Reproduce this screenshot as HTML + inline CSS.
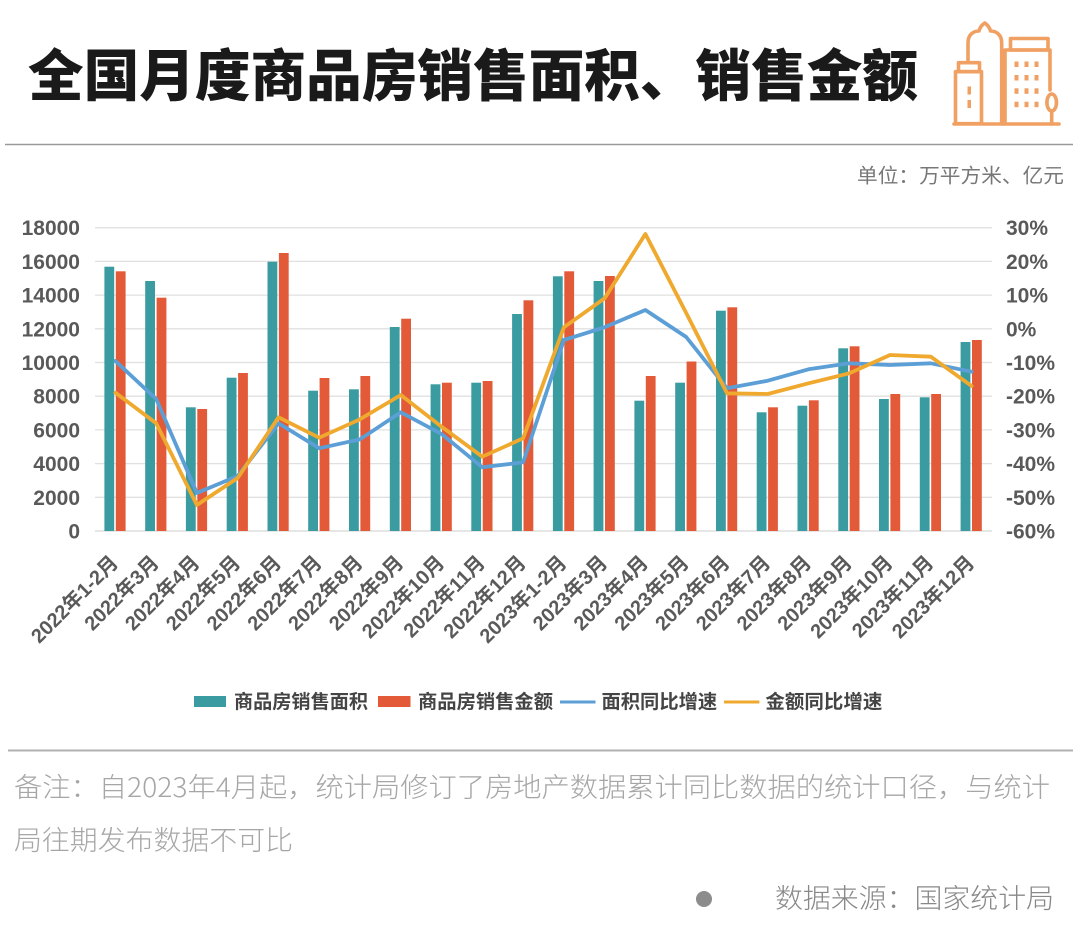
<!DOCTYPE html>
<html>
<head>
<meta charset="utf-8">
<style>
html,body{margin:0;padding:0;background:#fff;}
svg{display:block;}
text{font-family:"Liberation Sans","Noto Sans CJK SC",sans-serif;}
.cjk{font-family:"Noto Sans CJK SC","Liberation Sans",sans-serif;}
</style>
</head>
<body>
<svg width="1080" height="948" viewBox="0 0 1080 948" xmlns="http://www.w3.org/2000/svg">
<rect x="0" y="0" width="1080" height="948" fill="#fff"/>

<!-- Title -->
<text class="cjk" x="28" y="96" font-size="56" font-weight="900" fill="#1a1a1a" textLength="890" lengthAdjust="spacingAndGlyphs">全国月度商品房销售面积、销售金额</text>

<!-- Icon -->
<g fill="none" stroke="#F0A062" stroke-width="3.6" stroke-linecap="round" stroke-linejoin="round">
  <line x1="954" y1="124" x2="1059" y2="124"/>
  <rect x="955.5" y="71.7" width="26" height="52"/>
  <rect x="958.5" y="62.7" width="21" height="9"/>
  <path d="M968,62.7 L968,43 C968,34 974,31 979,31 C980,27 982.5,24.5 984.8,23 C987,24.5 989.5,27 990.5,31 C995.5,31 1001.7,34 1001.7,43 L1001.7,124"/>
  <path d="M1005,124 L1005,50 L1050,50 L1050,90"/>
  <rect x="1010.5" y="38.5" width="37.5" height="11.5"/>
  <ellipse cx="1051.7" cy="102.5" rx="4.8" ry="8.5"/>
  <line x1="1051.7" y1="111" x2="1051.7" y2="124"/>
</g>
<g fill="#F0A062">
  <rect x="967.5" y="86.5" width="3.5" height="8"/>
  <rect x="967.5" y="100" width="3.5" height="8"/>
  <rect x="1014.5" y="61.5" width="4" height="5.5"/><rect x="1024.5" y="61.5" width="4" height="5.5"/><rect x="1034.5" y="61.5" width="4" height="5.5"/>
  <rect x="1014.5" y="75" width="4" height="5.5"/><rect x="1024.5" y="75" width="4" height="5.5"/><rect x="1034.5" y="75" width="4" height="5.5"/>
  <rect x="1014.5" y="88.3" width="4" height="5.5"/><rect x="1024.5" y="88.3" width="4" height="5.5"/><rect x="1034.5" y="88.3" width="4" height="5.5"/>
  <rect x="1014.5" y="101.7" width="4" height="5.5"/><rect x="1024.5" y="101.7" width="4" height="5.5"/><rect x="1034.5" y="101.7" width="4" height="5.5"/>
</g>

<!-- Divider 1 -->
<line x1="5" y1="144.5" x2="1073" y2="144.5" stroke="#999" stroke-width="1.5"/>

<!-- Unit -->
<text class="cjk" x="857" y="182.5" font-size="20" fill="#777" textLength="207" lengthAdjust="spacingAndGlyphs">单位：万平方米、亿元</text>

<!-- Gridlines -->
<g stroke="#e0e0e0" stroke-width="1.3">
  <line x1="95" y1="227.7" x2="992" y2="227.7"/>
  <line x1="95" y1="261.4" x2="992" y2="261.4"/>
  <line x1="95" y1="295.1" x2="992" y2="295.1"/>
  <line x1="95" y1="328.8" x2="992" y2="328.8"/>
  <line x1="95" y1="362.5" x2="992" y2="362.5"/>
  <line x1="95" y1="396.2" x2="992" y2="396.2"/>
  <line x1="95" y1="429.9" x2="992" y2="429.9"/>
  <line x1="95" y1="463.6" x2="992" y2="463.6"/>
  <line x1="95" y1="497.3" x2="992" y2="497.3"/>
  <line x1="95" y1="531" x2="992" y2="531" stroke="#d6d6d6"/>
</g>

<!-- Left axis labels -->
<g font-size="21" font-weight="bold" fill="#595959" text-anchor="end">
  <text x="80" y="235.2">18000</text>
  <text x="80" y="268.9">16000</text>
  <text x="80" y="302.6">14000</text>
  <text x="80" y="336.3">12000</text>
  <text x="80" y="370">10000</text>
  <text x="80" y="403.7">8000</text>
  <text x="80" y="437.4">6000</text>
  <text x="80" y="471.1">4000</text>
  <text x="80" y="504.8">2000</text>
  <text x="80" y="538.5">0</text>
</g>

<!-- Right axis labels -->
<g font-size="21" font-weight="bold" fill="#595959">
  <text x="1006" y="235.2">30%</text>
  <text x="1006" y="268.9">20%</text>
  <text x="1006" y="302.6">10%</text>
  <text x="1006" y="336.3">0%</text>
  <text x="1006" y="370">-10%</text>
  <text x="1006" y="403.7">-20%</text>
  <text x="1006" y="437.4">-30%</text>
  <text x="1006" y="471.1">-40%</text>
  <text x="1006" y="504.8">-50%</text>
  <text x="1006" y="538.5">-60%</text>
</g>

<!-- Bars: teal -->
<g fill="#3A9BA0">
  <rect x="104.4" y="266.7" width="9.8" height="264.3"/>
  <rect x="145.2" y="281" width="9.8" height="250"/>
  <rect x="185.9" y="407.3" width="9.8" height="123.7"/>
  <rect x="226.7" y="377.7" width="9.8" height="153.3"/>
  <rect x="267.5" y="261.7" width="9.8" height="269.3"/>
  <rect x="308.2" y="390.7" width="9.8" height="140.3"/>
  <rect x="349" y="389.3" width="9.8" height="141.7"/>
  <rect x="389.8" y="327" width="9.8" height="204"/>
  <rect x="430.6" y="384.3" width="9.8" height="146.7"/>
  <rect x="471.3" y="382.7" width="9.8" height="148.3"/>
  <rect x="512.1" y="314" width="9.8" height="217"/>
  <rect x="552.9" y="276.3" width="9.8" height="254.7"/>
  <rect x="593.6" y="281" width="9.8" height="250"/>
  <rect x="634.4" y="400.7" width="9.8" height="130.3"/>
  <rect x="675.2" y="382.7" width="9.8" height="148.3"/>
  <rect x="716" y="310.7" width="9.8" height="220.3"/>
  <rect x="756.7" y="412.3" width="9.8" height="118.7"/>
  <rect x="797.5" y="405.7" width="9.8" height="125.3"/>
  <rect x="838.3" y="348.3" width="9.8" height="182.7"/>
  <rect x="879" y="399" width="9.8" height="132"/>
  <rect x="919.8" y="397.3" width="9.8" height="133.7"/>
  <rect x="960.6" y="342" width="9.8" height="189"/>
</g>
<!-- Bars: orange -->
<g fill="#E35A38">
  <rect x="115.8" y="271.3" width="9.8" height="259.7"/>
  <rect x="156.6" y="297.7" width="9.8" height="233.3"/>
  <rect x="197.3" y="409" width="9.8" height="122"/>
  <rect x="238.1" y="373" width="9.8" height="158"/>
  <rect x="278.9" y="253" width="9.8" height="278"/>
  <rect x="319.6" y="378" width="9.8" height="153"/>
  <rect x="360.4" y="376" width="9.8" height="155"/>
  <rect x="401.2" y="318.7" width="9.8" height="212.3"/>
  <rect x="442" y="382.7" width="9.8" height="148.3"/>
  <rect x="482.7" y="381" width="9.8" height="150"/>
  <rect x="523.5" y="300.3" width="9.8" height="230.7"/>
  <rect x="564.3" y="271.3" width="9.8" height="259.7"/>
  <rect x="605" y="276" width="9.8" height="255"/>
  <rect x="645.8" y="376" width="9.8" height="155"/>
  <rect x="686.6" y="361.5" width="9.8" height="169.5"/>
  <rect x="727.4" y="307.3" width="9.8" height="223.7"/>
  <rect x="768.1" y="407.3" width="9.8" height="123.7"/>
  <rect x="808.9" y="400.3" width="9.8" height="130.7"/>
  <rect x="849.7" y="346.3" width="9.8" height="184.7"/>
  <rect x="890.4" y="394" width="9.8" height="137"/>
  <rect x="931.2" y="394" width="9.8" height="137"/>
  <rect x="972" y="340" width="9.8" height="191"/>
</g>

<!-- Lines -->
<polyline fill="none" stroke="#5C9FD6" stroke-width="3.8" stroke-linejoin="round" stroke-linecap="round"
 points="115.4,361 156.2,399 196.9,493 237.7,476 278.5,423.3 319.2,448.3 360,439.3 400.8,412.3 441.6,434 482.3,467.3 523.1,462.3 563.9,340 604.6,327.3 645.4,310 686.2,337 727,388.3 767.7,380.7 808.5,369.3 849.3,363.3 890,365 930.8,363.3 971.6,371.7"/>
<polyline fill="none" stroke="#EFA92F" stroke-width="3.8" stroke-linejoin="round" stroke-linecap="round"
 points="115.4,392.7 156.2,423.3 196.9,505 237.7,478 278.5,417.3 319.2,437.7 360,419.3 400.8,395 441.6,426.7 482.3,456.7 523.1,438.3 563.9,327.3 604.6,298.3 645.4,234 686.2,313 727,393.3 767.7,394 808.5,383.3 849.3,373.3 890,355 930.8,356.7 971.6,386"/>

<!-- X labels -->
<g font-size="20" font-weight="bold" fill="#5a5a5a" text-anchor="end">
  <text transform="translate(119.4,564) rotate(-45)">2022年1-2月</text>
  <text transform="translate(160.2,564) rotate(-45)">2022年3月</text>
  <text transform="translate(200.9,564) rotate(-45)">2022年4月</text>
  <text transform="translate(241.7,564) rotate(-45)">2022年5月</text>
  <text transform="translate(282.5,564) rotate(-45)">2022年6月</text>
  <text transform="translate(323.2,564) rotate(-45)">2022年7月</text>
  <text transform="translate(364,564) rotate(-45)">2022年8月</text>
  <text transform="translate(404.8,564) rotate(-45)">2022年9月</text>
  <text transform="translate(445.6,564) rotate(-45)">2022年10月</text>
  <text transform="translate(486.3,564) rotate(-45)">2022年11月</text>
  <text transform="translate(527.1,564) rotate(-45)">2022年12月</text>
  <text transform="translate(567.9,564) rotate(-45)">2023年1-2月</text>
  <text transform="translate(608.6,564) rotate(-45)">2023年3月</text>
  <text transform="translate(649.4,564) rotate(-45)">2023年4月</text>
  <text transform="translate(690.2,564) rotate(-45)">2023年5月</text>
  <text transform="translate(731,564) rotate(-45)">2023年6月</text>
  <text transform="translate(771.7,564) rotate(-45)">2023年7月</text>
  <text transform="translate(812.5,564) rotate(-45)">2023年8月</text>
  <text transform="translate(853.3,564) rotate(-45)">2023年9月</text>
  <text transform="translate(894,564) rotate(-45)">2023年10月</text>
  <text transform="translate(934.8,564) rotate(-45)">2023年11月</text>
  <text transform="translate(975.6,564) rotate(-45)">2023年12月</text>
</g>

<!-- Legend -->
<rect x="194" y="696" width="32" height="11" fill="#3A9BA0"/>
<text class="cjk" x="234" y="708" font-size="19" font-weight="bold" fill="#444" textLength="134" lengthAdjust="spacingAndGlyphs">商品房销售面积</text>
<rect x="378" y="696" width="32.5" height="11" fill="#E35A38"/>
<text class="cjk" x="418" y="708" font-size="19" font-weight="bold" fill="#444" textLength="135" lengthAdjust="spacingAndGlyphs">商品房销售金额</text>
<line x1="560" y1="702" x2="595.5" y2="702" stroke="#5C9FD6" stroke-width="3"/>
<text class="cjk" x="601.5" y="708" font-size="19" font-weight="bold" fill="#444" textLength="115.7" lengthAdjust="spacingAndGlyphs">面积同比增速</text>
<line x1="724" y1="702" x2="759.4" y2="702" stroke="#EFA92F" stroke-width="3"/>
<text class="cjk" x="765.4" y="708" font-size="19" font-weight="bold" fill="#444" textLength="117" lengthAdjust="spacingAndGlyphs">金额同比增速</text>

<!-- Divider 2 -->
<line x1="8" y1="750.5" x2="1073" y2="750.5" stroke="#b0b0b0" stroke-width="2"/>

<!-- Footnote -->
<text class="cjk" x="14" y="797" font-size="27" font-weight="300" fill="#a6a6a6" textLength="1036" lengthAdjust="spacingAndGlyphs">备注：自2023年4月起，统计局修订了房地产数据累计同比数据的统计口径，与统计</text>
<text class="cjk" x="14" y="850" font-size="27" font-weight="300" fill="#a6a6a6" textLength="279" lengthAdjust="spacingAndGlyphs">局往期发布数据不可比</text>

<!-- Source -->
<circle cx="704" cy="899" r="8" fill="#8c8c8c"/>
<text class="cjk" x="775" y="908" font-size="27" font-weight="300" fill="#888" textLength="279" lengthAdjust="spacingAndGlyphs">数据来源：国家统计局</text>
</svg>
</body>
</html>
